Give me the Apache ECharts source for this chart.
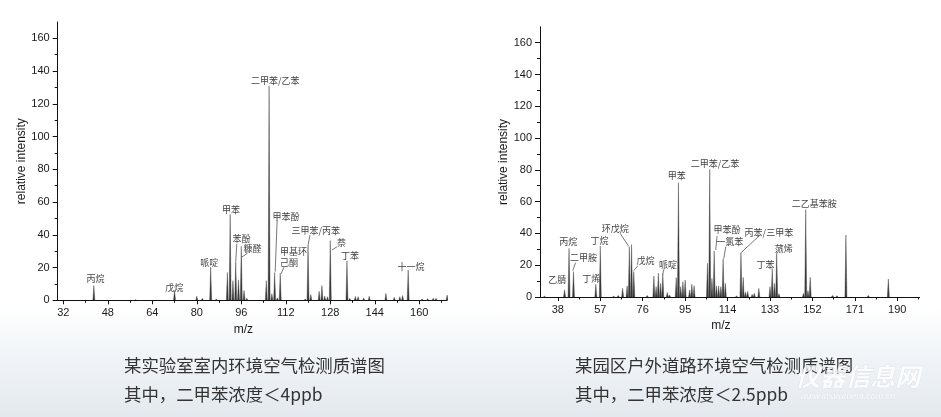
<!DOCTYPE html>
<html><head><meta charset="utf-8">
<script src="https://cdn.jsdelivr.net/npm/echarts@6/dist/echarts.min.js"></script>
<style>
html,body{margin:0;padding:0;background:#fff;}
#c{width:941px;height:417px;background:linear-gradient(to bottom,#ffffff 0%,#ffffff 74%,#f3f6f9 83%,#e3e9ee 100%);}
</style></head><body><div id="c"></div>
<script>
// ---------- data: left spectrum (indoor lab air) ----------
const leftMz = [43, 58, 72, 80, 82, 85, 87, 91, 92, 93, 94, 95, 96, 97, 98, 105, 106, 107, 108, 109, 110, 119, 120, 121, 124, 125, 126, 127, 128, 134, 135, 137, 138, 140, 142, 148, 151, 153, 154, 156, 161, 163, 165, 166, 170];
const leftIntensity = [9, 0.4, 6, 2.5, 1.2, 20.3, 0.8, 17, 52.5, 12, 23.5, 12.5, 33, 6, 1.2, 12, 131, 4, 17, 1.5, 16.5, 0.8, 33.5, 3.5, 5.5, 9, 2.6, 2.2, 36.5, 24, 1.2, 2.3, 2.2, 1.4, 2.5, 4.2, 1.8, 2.2, 2.9, 18.5, 0.8, 1, 1.2, 1.3, 3.2];
const leftTicks = [32, 48, 64, 80, 96, 112, 128, 144, 160];
const leftMinorTicks = [40, 56, 72, 88, 104, 120, 136, 152, 168];
const leftLabelNames = ['丙烷', '戊烷', '哌啶', '甲苯', '苯酚', '糠醛', '二甲苯/乙苯', '甲苯酚', '甲基环\n己酮', '三甲苯/丙苯', '萘', '丁苯', '十一烷'];
const leftLabelAt = [[43.6, 13], [71.9, 7.9], [84.5, 22.8], [92.3, 55.6], [96.1, 37.5], [100.0, 31.6], [108.2, 134], [112.1, 51.1], [109.9, 26.3], [122.8, 42.5], [132.0, 35.4], [135.1, 27.1], [157.0, 20.8]];
const leftLeaders = [null, null, null, null, [[94.4, 34.4], [94.0, 23.6]], [[98.2, 28.7], [96.1, 26.3]], null, [[108.9, 49.1], [108.2, 17.5]], [[111.3, 20.2], [110.3, 16.1]], [[120.7, 39.9], [120.0, 33.4]], [[130.5, 32.8], [128.6, 30.7]], null, null];

// ---------- data: right spectrum (outdoor road air) ----------
const rightMz = [32, 41, 43, 45, 55, 57, 63, 65, 67, 69, 70, 71, 72, 78, 81, 82, 83, 84, 85, 87, 88, 91, 92, 93, 94, 95, 97, 98, 99, 105, 106, 107, 108, 109, 110, 111, 112, 113, 118, 120, 121, 122, 123, 125, 126, 128, 133, 134, 135, 136, 137, 148, 149, 150, 151, 161, 163, 167, 177, 186];
const rightIntensity = [0.5, 4.5, 30.6, 16, 8, 32, 0.5, 1, 5.5, 7, 31.5, 33, 16, 1, 13.2, 6.5, 15, 8.6, 14.6, 2.9, 1.3, 12.2, 72, 6.5, 9.6, 10.7, 4.4, 8, 7.1, 21.2, 80.3, 11.7, 29, 7, 7, 6.5, 24, 8.6, 0.6, 28, 12.4, 3, 3.5, 1.7, 2.3, 5.4, 6.5, 18, 8.6, 28, 2, 2.3, 55, 4, 12.4, 1, 0.8, 39, 1, 11.3];
const rightTicks = [38, 57, 76, 95, 114, 133, 152, 171, 190];
const rightMinorTicks = [47.5, 66.5, 85.5, 104.5, 123.5, 142.5, 161.5, 180.5, 199.5];
const rightLabelNames = ['乙腈', '丙烷', '二甲胺', '丁烯', '丁烷', '环戊烷', '戊烷', '哌啶', '甲苯', '二甲苯/乙苯', '甲苯酚', '一氯苯', '丙苯/三甲苯', '丁苯', '蒎烯', '二乙基苯胺'];
const rightLabelAt = [[37.7, 10.7], [42.6, 34.8], [49.5, 25], [52.9, 11.5], [56.7, 35.4], [63.7, 43.2], [77.2, 23.1], [87.3, 20.1], [91.2, 76.1], [108.4, 84.1], [113.8, 42.6], [115, 35], [132.5, 40.7], [131, 20.1], [139.2, 30.6], [152.8, 58.9]];
const rightLeaders = [null, null, [[45.9, 21.6], [44.7, 16.6]], null, null, [[65.9, 40], [69.8, 31.7]], [[73.9, 19.7], [71.9, 16.6]], [[85.5, 17.4], [84.9, 14]], null, null, [[109.3, 38.4], [108.7, 29.6]], [[113.2, 31.7], [112.3, 24.1]], [[128.1, 38.4], [120.2, 28.1]], null, null, null];

// ---------- shared ----------
const yTicks = [0, 20, 40, 60, 80, 100, 120, 140, 160];
const yMinorTicks = [10, 30, 50, 70, 90, 110, 130, 150];
const xName = 'm/z';
const yName = 'relative intensity';
const captions = [
  ['某实验室室内环境空气检测质谱图', '其中，二甲苯浓度＜4ppb'],
  ['某园区户外道路环境空气检测质谱图', '其中，二甲苯浓度＜2.5ppb']
];

const FONT = '"Liberation Sans", Arial, sans-serif';
const CJK = '"Noto Sans CJK SC", sans-serif';
const leftAligns = leftLabelNames.map(n => n.indexOf('\n') >= 0 ? 'left' : 'center');
const rightAligns = rightLabelNames.map(() => 'center');

function peakItem(params, api) {
  const top = api.coord([api.value(0), api.value(1)]);
  const base = api.coord([api.value(0), 0]);
  return {
    type: 'polygon',
    shape: { points: [[base[0] - 1.0, base[1]], [top[0], top[1]], [base[0] + 1.0, base[1]]] },
    style: { fill: '#3a3a3a', stroke: '#3a3a3a', lineWidth: 0.4 }
  };
}
function labelRender(names, leaders, aligns) {
  return function (params, api) {
    const i = params.dataIndex;
    const p = api.coord([api.value(0), api.value(1)]);
    const children = [{
      type: 'text', x: p[0], y: p[1],
      style: { text: names[i], fill: '#444', fontSize: 9, fontFamily: CJK, align: aligns[i], verticalAlign: 'middle', lineHeight: 11 }
    }];
    const L = leaders[i];
    if (L) {
      const a = api.coord(L[0]), b = api.coord(L[1]);
      children.push({ type: 'line', shape: { x1: a[0], y1: a[1], x2: b[0], y2: b[1] }, style: { stroke: '#555', lineWidth: 0.8 } });
    }
    return { type: 'group', children };
  };
}
function xAxes(grid, min, max, ticks, minors) {
  return [{
    type: 'value', gridIndex: grid, min, max, position: 'bottom',
    name: xName, nameLocation: 'middle', nameGap: 21,
    nameTextStyle: { fontFamily: FONT, fontSize: 12, color: '#1a1a1a', padding: [0, 18, 0, 0] },
    axisLine: { show: true, onZero: false, lineStyle: { color: '#111', width: 1 } },
    axisTick: { show: true, customValues: ticks, length: 4, inside: false, lineStyle: { color: '#111' } },
    axisLabel: { show: true, customValues: ticks, margin: 7, fontFamily: FONT, fontSize: 11, color: '#1a1a1a' },
    splitLine: { show: false }
  }, {
    type: 'value', gridIndex: grid, min, max, position: 'bottom',
    axisLine: { show: false },
    axisTick: { show: true, customValues: minors, length: 2.5, lineStyle: { color: '#111' } },
    axisLabel: { show: false }, splitLine: { show: false }
  }];
}
function yAxes(grid, gap) {
  return [{
    type: 'value', gridIndex: grid, min: 0, max: 170, position: 'left',
    name: yName, nameLocation: 'middle', nameGap: gap, nameRotate: 90,
    nameTextStyle: { fontFamily: FONT, fontSize: 12, color: '#1a1a1a' },
    axisLine: { show: true, onZero: false, lineStyle: { color: '#111', width: 1 } },
    axisTick: { show: true, customValues: yTicks, length: 5, lineStyle: { color: '#111' } },
    axisLabel: { show: true, customValues: yTicks, margin: 8, fontFamily: FONT, fontSize: 11, color: '#1a1a1a' },
    splitLine: { show: false }
  }, {
    type: 'value', gridIndex: grid, min: 0, max: 170, position: 'left',
    axisLine: { show: false },
    axisTick: { show: true, customValues: yMinorTicks, length: 3, lineStyle: { color: '#111' } },
    axisLabel: { show: false }, splitLine: { show: false }
  }];
}

const chart = echarts.init(document.getElementById('c'), null, { renderer: 'canvas' });
chart.setOption({
  backgroundColor: 'transparent',
  animation: false,
  grid: [
    { left: 57.7, top: 22, width: 389.4, height: 278.3 },
    { left: 540, top: 26.8, width: 379.6, height: 270.2 }
  ],
  xAxis: [].concat(xAxes(0, 30, 170, leftTicks, leftMinorTicks), xAxes(1, 30, 200, rightTicks, rightMinorTicks)),
  yAxis: [].concat(yAxes(0, 30), yAxes(1, 27)),
  series: [
    { type: 'custom', xAxisIndex: 0, yAxisIndex: 0, renderItem: peakItem, encode: { x: 0, y: 1 },
      data: leftMz.map((m, i) => [m, leftIntensity[i]]), clip: true, z: 2 },
    { type: 'custom', xAxisIndex: 0, yAxisIndex: 0, renderItem: labelRender(leftLabelNames, leftLeaders, leftAligns), encode: { x: 0, y: 1 },
      data: leftLabelAt, silent: true, z: 3 },
    { type: 'custom', xAxisIndex: 2, yAxisIndex: 2, renderItem: peakItem, encode: { x: 0, y: 1 },
      data: rightMz.map((m, i) => [m, rightIntensity[i]]), clip: true, z: 2 },
    { type: 'custom', xAxisIndex: 2, yAxisIndex: 2, renderItem: labelRender(rightLabelNames, rightLeaders, rightAligns), encode: { x: 0, y: 1 },
      data: rightLabelAt, silent: true, z: 3 }
  ],
  graphic: [
    { type: 'text', left: 124, top: 357, style: { text: captions[0][0], fontSize: 17.4, fontFamily: CJK, fill: '#333' } },
    { type: 'text', left: 124, top: 386, style: { text: captions[0][1], fontSize: 17.4, fontFamily: CJK, fill: '#333' } },
    { type: 'text', left: 575, top: 357, style: { text: captions[1][0], fontSize: 17.4, fontFamily: CJK, fill: '#333' } },
    { type: 'text', left: 575, top: 386, style: { text: captions[1][1], fontSize: 17.4, fontFamily: CJK, fill: '#333' } },
    { type: 'text', left: 795, top: 364, z: 0, style: { text: '仪器信息网', fontSize: 25, fontWeight: 'bold', fontStyle: 'italic', fontFamily: CJK, fill: 'rgba(255,255,255,0.8)', stroke: 'rgba(205,212,220,0.6)', lineWidth: 0.6 } },
    { type: 'text', left: 800, top: 392, z: 0, style: { text: 'www.instrument.com.cn', fontSize: 9, fontStyle: 'italic', fontFamily: FONT, fill: 'rgba(255,255,255,0.85)', stroke: 'rgba(205,212,220,0.5)', lineWidth: 0.4 } }
  ]
});
</script></body></html>
